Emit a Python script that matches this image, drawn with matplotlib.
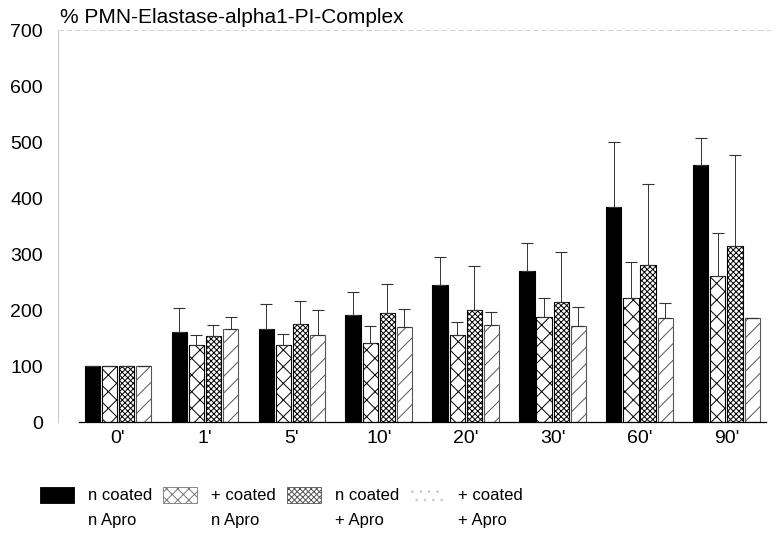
import matplotlib.pyplot as plt
from matplotlib.patches import Rectangle
import numpy as np

plt.rcParams['font.family'] = ['Liberation Sans', 'DejaVu Sans']
plt.rcParams['hatch.linewidth'] = 0.7

times = ["0'", "1'", "5'", "10'", "20'", "30'", "60'", "90'"]

# mean values (% of baseline) and upper error bar ends
n_coat_n_apro = [100, 160, 167, 192, 245, 270, 385, 460]
n_coat_n_apro_err = [100, 204, 210, 232, 295, 320, 500, 508]
p_coat_n_apro = [100, 138, 138, 141, 156, 188, 221, 260]
p_coat_n_apro_err = [100, 156, 157, 172, 178, 221, 286, 337]
n_coat_p_apro = [100, 154, 176, 195, 201, 214, 280, 315]
n_coat_p_apro_err = [100, 173, 216, 246, 278, 304, 425, 477]
p_coat_p_apro = [100, 167, 156, 170, 173, 171, 185, 186]
p_coat_p_apro_err = [100, 188, 200, 202, 196, 206, 213, 186]

legend_labels = ["n coated\nn Apro", "+ coated\nn Apro", "n coated\n+ Apro", "+ coated\n+ Apro"]

fig = plt.figure(figsize=(7.78, 5.39), dpi=100)
ax = fig.add_axes([0.0746, 0.217, 0.915, 0.727])

x = np.arange(len(times))
w = 0.175
step = 0.197
series = [
    (n_coat_n_apro, n_coat_n_apro_err, dict(color='black', edgecolor='black')),
    (p_coat_n_apro, p_coat_n_apro_err, dict(color='white', edgecolor='black', hatch='xx')),
    (n_coat_p_apro, n_coat_p_apro_err, dict(color='white', edgecolor='black', hatch='xxxxxx')),
    (p_coat_p_apro, p_coat_p_apro_err, dict(color='white', edgecolor='#555555', hatch='//')),
]
for i, (vals, errs, style) in enumerate(series):
    pos = x + (i - 1.5) * step
    ax.bar(pos, vals, width=w, linewidth=0.8, **style)
    up = np.array(errs) - np.array(vals)
    ax.errorbar(pos, vals, yerr=[np.zeros(len(vals)), up], fmt='none',
                ecolor='#333333', elinewidth=0.7, capsize=4, capthick=0.8)

ax.set_xlim(-0.69, 7.5)
ax.set_ylim(0, 700)
ax.set_yticks(range(0, 701, 100))
ax.set_xticks(x)
ax.set_xticklabels(times)
ax.tick_params(axis='both', length=0, labelsize=14)
ax.tick_params(axis='y', pad=11)
ax.tick_params(axis='x', pad=6)
ax.spines['right'].set_visible(False)
ax.spines['left'].set_color('#bbbbbb')
ax.spines['left'].set_linewidth(0.6)
ax.spines['top'].set_color('#cccccc')
ax.spines['top'].set_linestyle((0, (6, 4)))
ax.spines['top'].set_linewidth(0.6)
ax.spines['bottom'].set_linewidth(0.9)
ax.spines['bottom'].set_bounds(-0.45, 7.45)

fig.text(0.077, 0.968, "% PMN-Elastase-alpha1-PI-Complex", fontsize=15, va='center')

# legend drawn by hand below the chart
leg_x = [40, 163, 287, 410]
leg_styles = [
    dict(facecolor='black', edgecolor='black', linewidth=0.6),
    dict(facecolor='white', edgecolor='#777777', hatch='xxx', linewidth=0.6),
    dict(facecolor='white', edgecolor='#555555', hatch='xxxxxx', linewidth=0.6),
    dict(facecolor='white', edgecolor='#cccccc', hatch='..', linewidth=0),
]
for lx, st, lab in zip(leg_x, leg_styles, legend_labels):
    r = Rectangle((lx / 778, 1 - 503 / 539), 34 / 778, 16 / 539,
                  transform=fig.transFigure, **st)
    fig.add_artist(r)
    fig.text((lx + 48) / 778, 1 - 508 / 539, lab, fontsize=12, va='center',
             linespacing=1.8)

fig.savefig('out.png', dpi=100)
